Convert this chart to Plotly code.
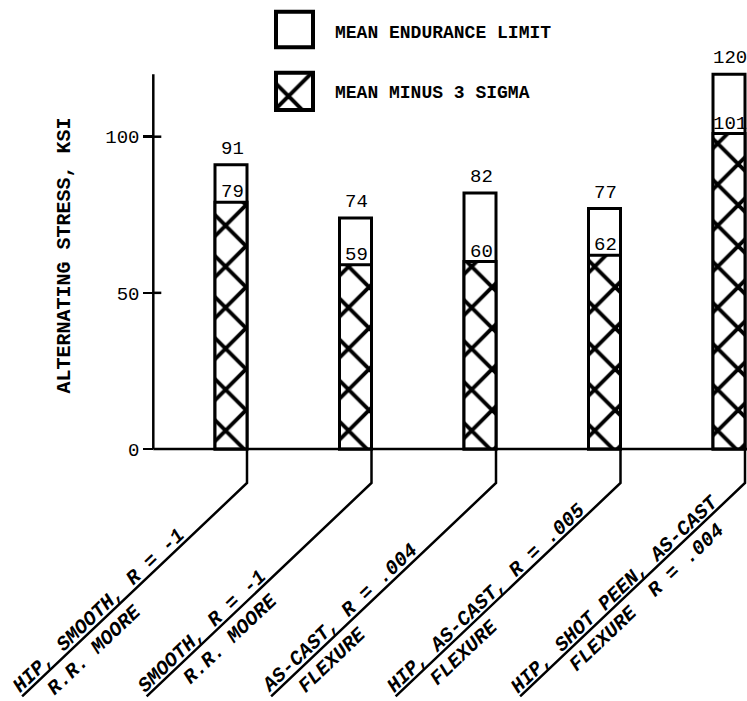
import math
import plotly.graph_objects as go

# ---------------- data ----------------
label_line1 = ["HIP, SMOOTH, R = -1", "SMOOTH, R = -1", "AS-CAST, R = .004",
               "HIP, AS-CAST, R = .005", "HIP, SHOT PEEN, AS-CAST"]
label_line2 = ["R.R. MOORE", "R.R. MOORE", "FLEXURE", "FLEXURE",
               "FLEXURE\u00a0\u00a0R = .004"]
mean_endurance = [91, 74, 82, 77, 120]
mean_minus_3sigma = [79, 59, 60, 62, 101]
y_tick_values = [0, 50, 100]
y_axis_top = 120
series_names = ["MEAN ENDURANCE LIMIT", "MEAN MINUS 3 SIGMA"]
y_title = "ALTERNATING STRESS, KSI"

# ---------------- layout geometry (pixels) ----------------
W, H = 747, 701
X0_PX = 231.0      # centre of first bar
DX_PX = 124.5      # spacing between bars
Y0_PX = 449.0      # pixel row of zero
K = 3.123          # pixels per ksi
BAR_W_PX = 32.0
AXIS_PX = 153.3

x_range = [(0 - X0_PX) / DX_PX, (W - X0_PX) / DX_PX]
y_range = [(Y0_PX - H) / K, Y0_PX / K]


def px_x(px):
    return (px - X0_PX) / DX_PX


def px_y(py):
    return (Y0_PX - py) / K


BAR_W = BAR_W_PX / DX_PX
AXIS_X = px_x(AXIS_PX)

MONO = "Liberation Mono"
xs = list(range(len(mean_endurance)))

hatch = dict(shape="x", size=29, solidity=0.25, fgcolor="black", bgcolor="white",
             fgopacity=1)
outline = dict(color="black", width=3)

fig = go.Figure()
fig.add_trace(go.Bar(x=xs, y=mean_endurance, width=BAR_W, name=series_names[0],
                     marker=dict(color="white", line=outline), hoverinfo="skip"))
fig.add_trace(go.Bar(x=xs, y=mean_minus_3sigma, width=BAR_W, name=series_names[1],
                     marker=dict(color="white", line=outline, pattern=hatch), hoverinfo="skip"))

# legend swatches (drawn as bars so the hatch pattern is identical)
LEG_X = px_x(294.5)
LEG_W = 37.0 / DX_PX
leg_boxes = [(11.7, 47.3), (72.7, 110.0)]
fig.add_trace(go.Bar(x=[LEG_X], y=[px_y(leg_boxes[0][0]) - px_y(leg_boxes[0][1])],
                     base=[px_y(leg_boxes[0][1])], width=LEG_W,
                     marker=dict(color="white", line=dict(color="black", width=4)), hoverinfo="skip"))
fig.add_trace(go.Bar(x=[LEG_X], y=[px_y(leg_boxes[1][0]) - px_y(leg_boxes[1][1])],
                     base=[px_y(leg_boxes[1][1])], width=LEG_W,
                     marker=dict(color="white", line=dict(color="black", width=4),
                                 pattern=dict(shape="x", size=34, solidity=0.22,
                                              fgcolor="black", bgcolor="white", fgopacity=1)),
                     hoverinfo="skip"))

annotations = []
for i, name in enumerate(series_names):
    annotations.append(dict(xref="paper", yref="paper", x=333 / W,
                            y=1 - (32.7 if i == 0 else 93.3) / H, text=name,
                            showarrow=False, xanchor="left", yanchor="middle",
                            font=dict(family=MONO, size=18, color="black", weight="bold")))

annotations.append(dict(xref="paper", yref="paper", x=64 / W, y=1 - 255.5 / H, text=y_title,
                        textangle=-90, showarrow=False, xanchor="center", yanchor="middle",
                        font=dict(family=MONO, size=20, color="black", weight="bold")))

# value labels
for i in xs:
    annotations.append(dict(x=i, y=mean_endurance[i], text=str(mean_endurance[i]),
                            showarrow=False, yanchor="bottom", yshift=3, xshift=1,
                            font=dict(family=MONO, size=19, color="black")))
    annotations.append(dict(x=i, y=mean_minus_3sigma[i], text=str(mean_minus_3sigma[i]),
                            showarrow=False, yanchor="bottom", yshift=-3, xshift=1,
                            font=dict(family=MONO, size=19, color="black")))

# category labels along leader lines
theta = math.radians(43.5)
ux, uy = math.cos(theta), -math.sin(theta)     # screen, up-right
nx, ny = math.sin(theta), math.cos(theta)      # screen, down-right
DROP = 34.0
DIAG = 310.0
ex, ey = -DIAG * math.cos(theta), DROP + DIAG * math.sin(theta)
ADV = 12.0
D1, D2 = -9.0, 16.0
indent2 = [24, 40, 27, 38, 58]

shapes = []
for i in xs:
    xr = i + BAR_W / 2
    shapes.append(dict(type="path", xref="x", yref="y", xsizemode="pixel", ysizemode="pixel",
                       xanchor=xr, yanchor=0,
                       path=f"M0,0 L0,{-DROP} L{ex:.2f},{-ey:.2f}",
                       line=dict(color="black", width=2.5)))
    for text, s0, d in ((label_line1[i], 1.0, D1), (label_line2[i], indent2[i], D2)):
        s = s0 + len(text) * ADV / 2
        px_ = ex + s * ux + d * nx
        py_ = ey + s * uy + d * ny
        annotations.append(dict(x=xr, y=0, xshift=px_, yshift=-py_, text=text,
                                textangle=-43.5, showarrow=False,
                                xanchor="center", yanchor="middle",
                                font=dict(family=MONO, size=20, color="black",
                                          weight="bold", style="italic")))

# axis line, zero line, inner tick halves
shapes.append(dict(type="line", xref="x", yref="y", x0=AXIS_X, x1=AXIS_X, y0=0, y1=y_axis_top,
                   line=dict(color="black", width=2.5)))
shapes.append(dict(type="line", xref="x", yref="y", x0=AXIS_X, x1=x_range[1], y0=0, y1=0,
                   line=dict(color="black", width=2.5)))
for v in y_tick_values[1:]:
    shapes.append(dict(type="line", xref="x", yref="y", xsizemode="pixel", xanchor=AXIS_X,
                       x0=0, x1=8, y0=v, y1=v, line=dict(color="black", width=2.5)))

fig.update_layout(
    width=W, height=H, margin=dict(l=0, r=0, t=0, b=0),
    paper_bgcolor="white", plot_bgcolor="white",
    barmode="overlay", showlegend=False,
    xaxis=dict(range=x_range, visible=False, domain=[0, 1]),
    yaxis=dict(range=y_range, domain=[0, 1], anchor="free", position=AXIS_PX / W,
               showgrid=False, zeroline=False, showline=False,
               tickvals=y_tick_values, ticks="outside", ticklen=10, tickwidth=2.5,
               tickcolor="black",
               tickfont=dict(family=MONO, size=19, color="black")),
    annotations=annotations, shapes=shapes,
)

fig.write_html("out.html", config={"displayModeBar": False, "staticPlot": True},
               post_script="document.body.style.margin='0';document.body.style.overflow='hidden';")
